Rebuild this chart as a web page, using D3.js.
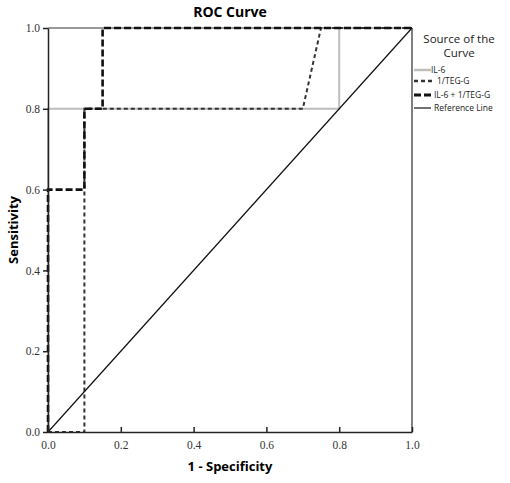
<!DOCTYPE html>
<html><head><meta charset="utf-8">
<script src="https://cdn.jsdelivr.net/npm/d3@7"></script>
<style>body{margin:0;background:#fff}</style>
</head><body>
<svg id="c" width="510" height="483"></svg>
<script>
const ticks = [0.0, 0.2, 0.4, 0.6, 0.8, 1.0];
const il6 = [[0,0],[0,0.8],[0.8,0.8],[0.8,1.0],[1.0,1.0]];
const tegg = [[0,0],[0.1,0],[0.1,0.8],[0.7,0.8],[0.75,1.0],[1.0,1.0]];
const combo = [[0,0],[0,0.6],[0.1,0.6],[0.1,0.8],[0.15,0.8],[0.15,1.0],[1.0,1.0]];
const refLine = [[0,0],[1,1]];
const seriesNames = ["IL-6","1/TEG-G","IL-6 + 1/TEG-G","Reference Line"];

const svg = d3.select("#c");
const L=48,R=412,T=28,B=432;
const x = d3.scaleLinear().domain([0,1]).range([L,R]);
const y = d3.scaleLinear().domain([0,1]).range([B,T]);
const line = d3.line().x(d=>x(d[0])).y(d=>y(d[1]));

const styles = [
  {stroke:"#bdbdbd", width:2, dash:null},
  {stroke:"#333", width:2, dash:"4,3"},
  {stroke:"#111", width:2.6, dash:"7,3"},
  {stroke:"#111", width:1.2, dash:null}
];
const data = [il6, tegg, combo, refLine];

svg.append("line").attr("x1",L).attr("x2",R).attr("y1",T).attr("y2",T).attr("stroke","#333").attr("stroke-width",1.2);
svg.append("line").attr("x1",R).attr("x2",R).attr("y1",T).attr("y2",B).attr("stroke","#555").attr("stroke-width",1.5);

data.forEach((d,i)=>{
  svg.append("path").attr("d",line(d)).attr("fill","none")
    .attr("stroke",styles[i].stroke).attr("stroke-width",styles[i].width)
    .attr("stroke-dasharray",styles[i].dash);
});

const fmt = d3.format(".1f");
const xa = svg.append("g").attr("transform",`translate(0,${B})`)
  .call(d3.axisBottom(x).tickValues(ticks).tickFormat(fmt).tickSize(5).tickSizeOuter(0));
const ya = svg.append("g").attr("transform",`translate(${L},0)`)
  .call(d3.axisLeft(y).tickValues(ticks).tickFormat(fmt).tickSize(5).tickSizeOuter(0));
[xa,ya].forEach(a=>{
  a.select(".domain").attr("stroke","#222").attr("stroke-width",1.5);
  a.selectAll(".tick line").attr("stroke","#222").attr("stroke-width",1.5);
  a.selectAll("text").attr("font-family","'Liberation Serif', serif").attr("font-size",11.5).attr("fill","#333");
});
xa.selectAll(".tick line").attr("y2",-5);
xa.selectAll("text").attr("y",9);
ya.selectAll(".tick line").attr("x2",-5);

svg.append("text").attr("x",230).attr("y",17).attr("text-anchor","middle")
  .attr("font-family","'Open Sans',sans-serif").attr("font-weight","bold").attr("font-size",14).text("ROC Curve");
svg.append("text").attr("x",(L+R)/2).attr("y",471).attr("text-anchor","middle")
  .attr("font-family","'Open Sans',sans-serif").attr("font-weight","bold").attr("font-size",13).text("1 - Specificity");
svg.append("text").attr("transform",`translate(18,${(T+B)/2}) rotate(-90)`).attr("text-anchor","middle")
  .attr("font-family","'Open Sans',sans-serif").attr("font-weight","bold").attr("font-size",13).text("Sensitivity");

const lg = svg.append("g").attr("font-family","'Open Sans',sans-serif");
lg.append("text").attr("x",459).attr("y",43).attr("text-anchor","middle").attr("font-size",11.5).attr("fill","#222").text("Source of the");
lg.append("text").attr("x",459).attr("y",57).attr("text-anchor","middle").attr("font-size",11.5).attr("fill","#222").text("Curve");
const ly = [70,81,95,108];
const lx = [431,437,434,434];
seriesNames.forEach((n,i)=>{
  lg.append("line").attr("x1",414).attr("x2",i==1?434:431).attr("y1",ly[i]).attr("y2",ly[i])
    .attr("stroke",styles[i].stroke).attr("stroke-width",styles[i].width+ (i<3?0.5:0))
    .attr("stroke-dasharray",styles[i].dash);
  lg.append("text").attr("x",lx[i]).attr("y",ly[i]+3).attr("font-size",8.5).attr("fill","#222").text(n);
});
</script>
</body></html>
